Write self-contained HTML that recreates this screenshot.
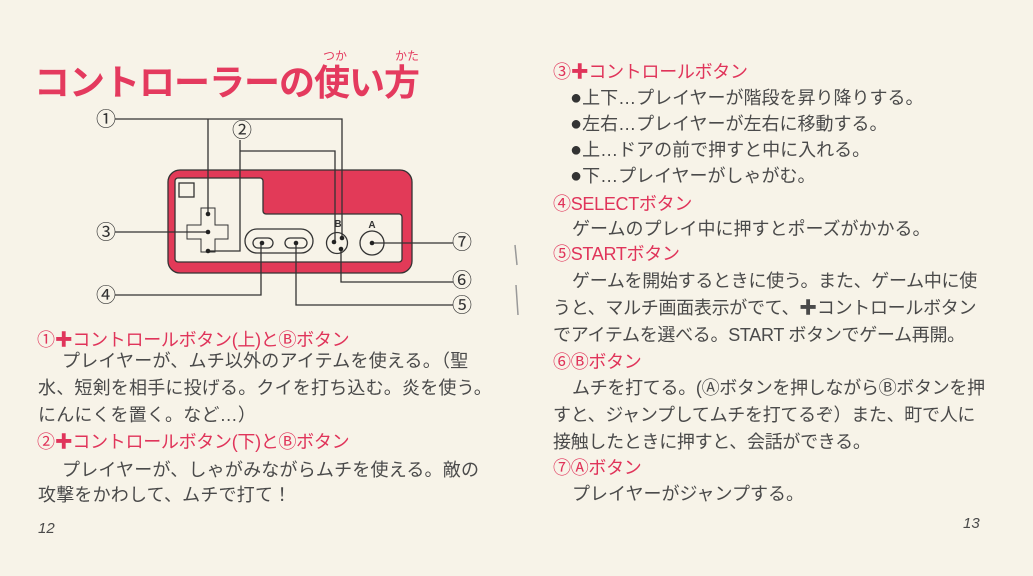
<!DOCTYPE html>
<html><head><meta charset="utf-8"><style>
html,body{margin:0;padding:0}
body{width:1033px;height:576px;background:#f7f3e8;position:relative;overflow:hidden;font-family:"Liberation Sans","Noto Sans CJK JP",sans-serif;color:#4a4a4a}
.t{position:absolute;white-space:nowrap;font-size:18px;line-height:22px}
.h{color:#e0345a;font-size:18px;letter-spacing:-0.3px}
.r{position:absolute;font-size:9px;color:#666;white-space:nowrap}
.b{font-size:20px;color:#333}
.title{position:absolute;left:34px;top:62px;font-size:36px;line-height:42px;font-weight:bold;color:#e43a5e;letter-spacing:-1px;white-space:nowrap}
</style></head><body>
<div class="r" style="left:323px;top:47px;font-size:12px;color:#e43a5e">つか</div>
<div class="r" style="left:395px;top:47px;font-size:12px;color:#e43a5e">かた</div>
<div class="title">コントローラーの使い方</div>

<svg width="1033" height="576" style="position:absolute;left:0;top:0">
<g fill="none" stroke="#333" stroke-width="1.3">
<path d="M168 182 a12 12 0 0 1 12 -12 h220 a12 12 0 0 1 12 12 v79 a12 12 0 0 1 -12 12 h-220 a12 12 0 0 1 -12 -12z" fill="#e23a58"/>
<path d="M178 178 h82 a3 3 0 0 1 3 3 v30 a3 3 0 0 0 3 3 h133 a3 3 0 0 1 3 3 v42 a3 3 0 0 1 -3 3 h-221 a3 3 0 0 1 -3 -3 v-78 a3 3 0 0 1 3 -3z" fill="#f7f3e8"/>
<rect x="179" y="183" width="15" height="14" fill="#f7f3e8"/>
<path d="M201 208 h14 v17 h13 v14 h-13 v13 h-14 v-13 h-14 v-14 h14z" fill="#f7f3e8" stroke-width="1"/>
<rect x="245" y="229" width="68" height="24" rx="12" fill="#f7f3e8"/>
<rect x="253" y="238" width="20" height="10" rx="5"/>
<rect x="285" y="238" width="22" height="10" rx="5"/>
<circle cx="337" cy="243" r="10.5" fill="#f7f3e8"/>
<circle cx="372" cy="243" r="12" fill="#f7f3e8"/>
<path d="M115 119 H342 V238 M208 119 V214"/>
<path d="M240 140 V251 H208 M240 151 H335 V242"/>
<path d="M115 232 H208"/>
<path d="M341 249 V282 H453"/>
<path d="M372 243 H453"/>
<path d="M115 295 H261 V243"/>
<path d="M296 243 V305 H453"/>
</g>
<g fill="#222">
<circle cx="208" cy="214" r="2.3"/><circle cx="208" cy="232" r="2.3"/><circle cx="208" cy="251" r="2.3"/>
<circle cx="262" cy="243" r="2.3"/><circle cx="296" cy="243" r="2.3"/>
<circle cx="334" cy="242" r="2.3"/><circle cx="342" cy="238" r="2.3"/><circle cx="341" cy="249" r="2.3"/>
<circle cx="372" cy="243" r="2.3"/>
</g>
<g font-size="10" font-weight="bold" fill="#333" text-anchor="middle" font-family="Liberation Sans">
<text x="338" y="227">B</text><text x="372" y="228">A</text>
</g>
<g font-size="20" fill="#333" text-anchor="middle" font-family="Noto Sans CJK JP,sans-serif">
<text x="106" y="126">①</text><text x="242" y="137">②</text><text x="106" y="239">③</text>
<text x="106" y="302">④</text><text x="462" y="312">⑤</text><text x="462" y="287">⑥</text><text x="462" y="249">⑦</text>
</g>
<path d="M515 245 l2 20 M516 285 l2 30" stroke="#999" stroke-width="1.5"/>
</svg>

<div class="t h" style="left:37px;top:329px">①✚コントロールボタン(上)とⒷボタン</div>
<div class="t" style="left:62px;top:350px;letter-spacing:0.2px">プレイヤーが、ムチ以外のアイテムを使える。（聖</div>
<div class="t" style="left:38px;top:377px;letter-spacing:0.2px">水、短剣を相手に投げる。クイを打ち込む。炎を使う。</div>
<div class="t" style="left:38px;top:404px;letter-spacing:0.2px">にんにくを置く。など…）</div>
<div class="t h" style="left:37px;top:431px">②✚コントロールボタン(下)とⒷボタン</div>
<div class="t" style="left:62px;top:459px;letter-spacing:0.2px">プレイヤーが、しゃがみながらムチを使える。敵の</div>
<div class="t" style="left:38px;top:484px;letter-spacing:0.2px">攻撃をかわして、ムチで打て！</div>
<div class="t" style="left:38px;top:518px;font-size:15px;font-style:italic">12</div>

<div class="t h" style="left:553px;top:61px">③✚コントロールボタン</div>
<div class="t" style="left:570px;top:87px"><span class="b">●</span>上下…プレイヤーが階段を昇り降りする。</div>
<div class="t" style="left:570px;top:113px"><span class="b">●</span>左右…プレイヤーが左右に移動する。</div>
<div class="t" style="left:570px;top:139px"><span class="b">●</span>上…ドアの前で押すと中に入れる。</div>
<div class="t" style="left:570px;top:165px"><span class="b">●</span>下…プレイヤーがしゃがむ。</div>
<div class="t h" style="left:553px;top:193px">④SELECTボタン</div>
<div class="t" style="left:572px;top:218px">ゲームのプレイ中に押すとポーズがかかる。</div>
<div class="t h" style="left:553px;top:243px">⑤STARTボタン</div>
<div class="t" style="left:572px;top:270px;letter-spacing:-0.3px">ゲームを開始するときに使う。また、ゲーム中に使</div>
<div class="t" style="left:553px;top:297px;letter-spacing:-0.3px">うと、マルチ画面表示がでて、✚コントロールボタン</div>
<div class="t" style="left:553px;top:324px;letter-spacing:-0.3px">でアイテムを選べる。START ボタンでゲーム再開。</div>
<div class="t h" style="left:553px;top:351px">⑥Ⓑボタン</div>
<div class="t" style="left:572px;top:377px;letter-spacing:-0.3px">ムチを打てる。(Ⓐボタンを押しながらⒷボタンを押</div>
<div class="t" style="left:553px;top:404px;letter-spacing:-0.3px">すと、ジャンプしてムチを打てるぞ）また、町で人に</div>
<div class="t" style="left:553px;top:431px;letter-spacing:-0.3px">接触したときに押すと、会話ができる。</div>
<div class="t h" style="left:553px;top:457px">⑦Ⓐボタン</div>
<div class="t" style="left:572px;top:483px">プレイヤーがジャンプする。</div>
<div class="t" style="left:963px;top:513px;font-size:15px;font-style:italic">13</div>
</body></html>
